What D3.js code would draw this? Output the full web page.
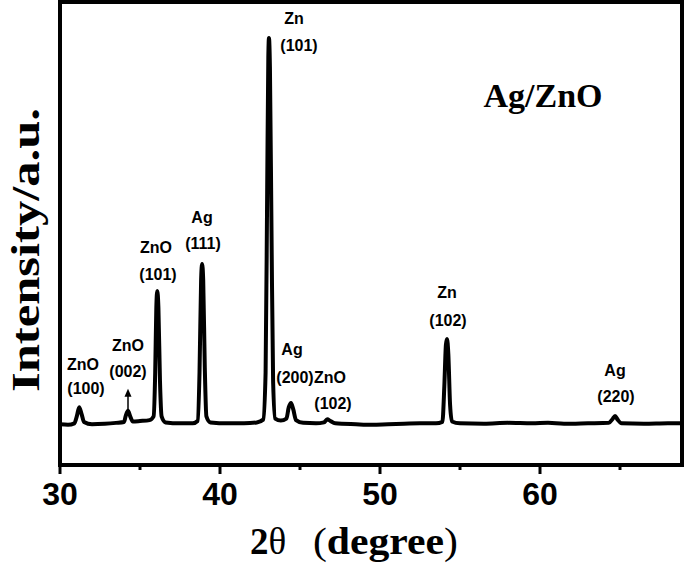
<!DOCTYPE html>
<html>
<head>
<meta charset="utf-8">
<script src="https://cdn.jsdelivr.net/npm/d3@7"></script>
<style>
  body { margin: 0; background: #fff; }
  svg { display: block; }
</style>
</head>
<body>
<svg id="chart"></svg>
<script>
// Dimensions of the page
const width = 685;
const height = 569;

// XRD pattern: 2theta (deg) and intensity (a.u.)
const twoTheta = [
  30.0, 30.5, 30.9, 31.05, 31.2, 31.35, 31.5, 32.0, 32.8, 33.5,
  34.0, 34.1, 34.25, 34.4, 34.55, 35.0, 35.6, 35.85, 35.95, 36.02,
  36.08, 36.15, 36.25, 36.35, 36.6, 37.5, 38.3, 38.6, 38.72, 38.82,
  38.88, 38.95, 39.05, 39.15, 39.4, 40.5, 41.5, 42.3, 42.7, 42.85,
  42.95, 43.02, 43.06, 43.12, 43.22, 43.32, 43.45, 43.8, 44.15, 44.3,
  44.44, 44.58, 44.75, 45.2, 46.0, 46.5, 46.7, 46.9, 47.2, 48.5,
  49.5, 50.5, 51.5, 52.5, 53.5, 53.9, 54.02, 54.12, 54.19, 54.27,
  54.38, 54.5, 55.0, 56.5, 58.0, 59.5, 60.5, 61.5, 63.0, 64.3,
  64.55, 64.69, 64.85, 65.1, 66.5, 68.0, 68.9
];
const intensity = [
  88, 87, 90, 105, 125, 110, 93, 88, 89, 91,
  93, 105, 117, 104, 94, 95, 97, 105, 200, 340,
  376, 340, 180, 105, 92, 90, 90, 95, 200, 400,
  434, 400, 210, 105, 92, 90, 90, 92, 98, 200,
  600, 880, 922, 860, 500, 180, 100, 96, 100, 125,
  134, 120, 97, 91, 90, 92, 99, 95, 90, 88,
  87, 88, 89, 90, 90, 93, 170, 260, 272, 240,
  130, 94, 90, 89, 91, 90, 91, 89, 90, 91,
  100, 106, 98, 90, 89, 90, 90
];

// Peak labels: phase, plane, label position (2theta, intensity of baseline text)
const peakPhase = ["ZnO", "ZnO", "ZnO", "Ag", "Zn", "Ag", "ZnO", "Zn", "Ag"];
const peakPlane = ["(100)", "(002)", "(101)", "(111)", "(101)", "(200)", "(102)", "(102)", "(220)"];

const xTicks = [30, 40, 50, 60];
const xMinorTicks = [35, 45, 55, 65];

const svg = d3.select("#chart")
    .attr("width", width)
    .attr("height", height);

const x = d3.scaleLinear().domain([30, 68.875]).range([60, 682]);
const y = d3.scaleLinear().domain([0, 1000]).range([465, 2]);

// label anchors in pixels relative to the peak scale (phase line, plane line)
const labelPos = [
  { p: [83, 370], h: [86, 394] },
  { p: [128, 351], h: [128, 377] },
  { p: [156, 253], h: [158, 280] },
  { p: [202, 223], h: [203, 249] },
  { p: [294, 24], h: [299, 51] },
  { p: [292, 355], h: [295, 383] },
  { p: [330, 383], h: [333, 409] },
  { p: [447, 298], h: [448, 326] },
  { p: [615, 376], h: [616, 402] }
];

// frame
svg.append("rect")
    .attr("x", x.range()[0])
    .attr("y", y.range()[1])
    .attr("width", x.range()[1] - x.range()[0])
    .attr("height", y.range()[0] - y.range()[1])
    .attr("fill", "none")
    .attr("stroke", "black")
    .attr("stroke-width", 4);

// x axis ticks
svg.selectAll(".major")
    .data(xTicks)
    .enter()
    .append("line")
    .attr("x1", d => x(d)).attr("x2", d => x(d))
    .attr("y1", 465).attr("y2", 474)
    .attr("stroke", "black")
    .attr("stroke-width", 3);

svg.selectAll(".minor")
    .data(xMinorTicks)
    .enter()
    .append("line")
    .attr("x1", d => x(d)).attr("x2", d => x(d))
    .attr("y1", 465).attr("y2", 470)
    .attr("stroke", "black")
    .attr("stroke-width", 3);

svg.selectAll(".ticklabel")
    .data(xTicks)
    .enter()
    .append("text")
    .attr("x", d => x(d))
    .attr("y", 505)
    .attr("text-anchor", "middle")
    .style("font-family", "'Liberation Sans', Arial, sans-serif")
    .style("font-weight", "bold")
    .style("font-size", "32px")
    .text(d => d);

// the pattern
const line = d3.line()
    .x((d, i) => x(twoTheta[i]))
    .y(d => y(d))
    .curve(d3.curveMonotoneX);

svg.append("path")
    .datum(intensity)
    .attr("d", line)
    .attr("fill", "none")
    .attr("stroke", "black")
    .attr("stroke-width", 4)
    .attr("stroke-linejoin", "round");

// peak labels
const labelFont = "'Liberation Sans', Arial, sans-serif";
labelPos.forEach((pos, i) => {
    svg.append("text")
        .attr("x", pos.p[0]).attr("y", pos.p[1])
        .attr("text-anchor", "middle")
        .style("font-family", labelFont)
        .style("font-weight", "bold")
        .style("font-size", "16px")
        .text(peakPhase[i]);
    svg.append("text")
        .attr("x", pos.h[0]).attr("y", pos.h[1])
        .attr("text-anchor", "middle")
        .style("font-family", labelFont)
        .style("font-weight", "bold")
        .style("font-size", "16px")
        .text(peakPlane[i]);
});

// small arrow over ZnO (002)
svg.append("line")
    .attr("x1", x(34.25)).attr("x2", x(34.25))
    .attr("y1", y(117) - 1).attr("y2", y(117) - 16)
    .attr("stroke", "black")
    .attr("stroke-width", 1.5);
svg.append("path")
    .attr("d", `M${x(34.25) - 3.5},${y(117) - 14} L${x(34.25)},${y(117) - 22} L${x(34.25) + 3.5},${y(117) - 14} Z`)
    .attr("fill", "black");

// sample name
svg.append("text")
    .attr("x", 543).attr("y", 107)
    .attr("text-anchor", "middle")
    .style("font-family", "'Liberation Serif', 'Times New Roman', serif")
    .style("font-weight", "bold")
    .style("font-size", "34px")
    .text("Ag/ZnO");

// axis titles
const serif = "'Liberation Serif', 'Times New Roman', serif";
const xt = svg.append("text")
    .attr("x", 250).attr("y", 554)
    .style("font-family", serif)
    .style("font-size", "37px");
xt.append("tspan").style("font-weight", "bold").text("2");
xt.append("tspan").text("θ");
svg.append("text")
    .attr("x", 313).attr("y", 554)
    .attr("textLength", 145)
    .attr("lengthAdjust", "spacingAndGlyphs")
    .style("font-family", serif)
    .style("font-size", "37px")
    .call(t => {
        t.append("tspan").text("(");
        t.append("tspan").style("font-weight", "bold").text("degree");
        t.append("tspan").text(")");
    });

svg.append("text")
    .attr("transform", "translate(39,250) rotate(-90)")
    .attr("text-anchor", "middle")
    .attr("textLength", 284)
    .attr("lengthAdjust", "spacingAndGlyphs")
    .style("font-family", serif)
    .style("font-weight", "bold")
    .style("font-size", "39px")
    .text("Intensity/a.u.");
</script>
</body>
</html>
